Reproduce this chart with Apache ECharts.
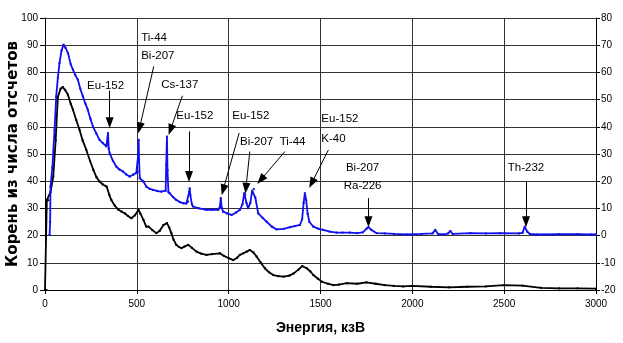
<!DOCTYPE html>
<html>
<head>
<meta charset="utf-8">
<script src="https://cdn.jsdelivr.net/npm/echarts@6/dist/echarts.min.js"></script>
<style>
html,body{margin:0;padding:0;background:#fff;}
#chart{width:623px;height:343px;}
</style>
</head>
<body>
<div id="chart"></div>
<script>
// ---- Data ----
// Black spectrum (left axis): energy, keV
var blackEnergy = [0, 8, 10, 18, 30, 45, 58, 70, 85, 97, 110, 125, 140, 152, 170, 188, 205, 225, 245, 263, 280, 297, 315, 336, 350, 361, 380, 400, 418, 434, 452, 470, 490, 509, 520, 536, 551, 564, 585, 606, 625, 645, 664, 676, 688, 700, 715, 730, 743, 760, 780, 800, 825, 850, 879, 910, 952, 975, 1000, 1025, 1045, 1061, 1080, 1098, 1115, 1135, 1152, 1175, 1197, 1220, 1243, 1270, 1300, 1330, 1354, 1380, 1400, 1425, 1445, 1461, 1485, 1506, 1540, 1570, 1600, 1643, 1700, 1750, 1800, 1850, 1900, 1950, 2000, 2100, 2200, 2300, 2400, 2500, 2600, 2700, 2800, 2900, 3000];
var blackValues = [0, 0, 33, 33, 36, 41.7, 55, 71, 74, 74.6, 73.5, 71.8, 68.5, 66.3, 62.5, 58.9, 55, 51.5, 47.5, 44.2, 41.5, 39.9, 38.8, 38, 35, 33.1, 31, 29.5, 28.8, 28.2, 27.2, 26.4, 27.5, 29.5, 28, 25.8, 23.3, 23.3, 22, 20.9, 21.8, 23.9, 24.6, 23, 20.9, 18.5, 16.6, 15.8, 15.4, 16, 16.6, 15.5, 14.1, 13.4, 12.9, 13.2, 13.5, 12.5, 11.7, 11, 11.8, 12.9, 13.5, 14.1, 14.7, 13.8, 12.3, 10, 8, 6.5, 5.5, 5.1, 4.9, 5.3, 6.1, 7.5, 8.8, 8, 6.8, 5.5, 4.2, 3.1, 2.3, 1.8, 2.0, 2.5, 2.3, 2.8, 2.3, 1.8, 1.5, 1.3, 1.5, 1.2, 1.0, 1.2, 1.3, 1.8, 1.6, 0.8, 0.6, 0.6, 0.5];

// Blue spectrum (right axis)
var blueEnergy = [25, 28, 30, 40, 52, 61, 70, 79, 90, 101, 112, 125, 140, 152, 165, 179, 192, 206, 220, 233, 247, 261, 280, 297, 315, 334, 338, 343, 347, 352, 370, 388, 405, 424, 442, 461, 480, 497, 505, 508, 510, 512, 516, 536, 552, 570, 588, 610, 634, 657, 660, 664, 667, 672, 679, 697, 715, 735, 752, 770, 779, 785, 788, 791, 800, 806, 840, 879, 910, 943, 952, 957, 962, 970, 990, 1016, 1040, 1061, 1075, 1085, 1090, 1097, 1106, 1118, 1128, 1137, 1145, 1161, 1185, 1207, 1235, 1261, 1300, 1334, 1360, 1388, 1400, 1408, 1415, 1422, 1430, 1440, 1461, 1490, 1515, 1550, 1588, 1620, 1660, 1700, 1730, 1750, 1761, 1775, 1806, 1850, 1900, 1970, 2050, 2110, 2125, 2140, 2170, 2195, 2207, 2220, 2316, 2400, 2479, 2580, 2600, 2612, 2625, 2640, 2679, 2800, 2900, 2970, 3000];
var blueValues = [0.2, 5, 18, 25, 38.9, 51.2, 58, 63.5, 68, 70.2, 69, 67.1, 63, 61, 59, 57.3, 54, 51.2, 48.5, 46.3, 43, 40.1, 37.5, 35.2, 34, 32.8, 33.5, 37.7, 32, 30.3, 27.5, 25.4, 24.3, 23.6, 22.5, 21.7, 22.4, 23, 23.5, 30, 35.2, 28, 21.1, 19.9, 18, 17.2, 16.8, 16.4, 16.2, 16.5, 26, 36.4, 24, 16, 15.6, 14.2, 13.1, 12.3, 11.9, 11.8, 12.5, 16, 17.4, 15, 11.5, 10.7, 10, 9.5, 9.5, 9.5, 10.5, 13.8, 10.2, 8.8, 8.2, 7.6, 8.5, 9.5, 11.5, 15.6, 15, 12, 10.1, 12, 16.5, 17.1, 14, 8.2, 6.5, 5.1, 3.3, 2.3, 2.5, 3.1, 3.5, 3.9, 6, 12, 15.6, 13, 8, 5, 3.3, 2.5, 2.1, 1.5, 1.1, 1.1, 1.1, 0.9, 1.2, 2.5, 3.1, 2.2, 0.9, 0.8, 0.6, 0.4, 0.6, 0.8, 2.1, 0.6, 0.4, 0.8, 1.7, 0.6, 0.9, 0.8, 0.9, 0.8, 1, 3.3, 1.5, 0.6, 0.4, 0.5, 0.5, 0.4, 0.4];

// Axis ticks
var xTicks = [0, 500, 1000, 1500, 2000, 2500, 3000];
var leftTicks = [0, 10, 20, 30, 40, 50, 60, 70, 80, 90, 100];
var rightTicks = [-20, -10, 0, 10, 20, 30, 40, 50, 60, 70, 80];

// Peak annotation labels (text, anchor energy, anchor value on right axis)
var labelTexts = ['Eu-152', 'Ti-44', 'Bi-207', 'Cs-137', 'Eu-152', 'Eu-152', 'Bi-207', 'Ti-44', 'Eu-152', 'K-40', 'Bi-207', 'Ra-226', 'Th-232'];
var labelEnergy = [330, 521, 521, 734, 816, 1017, 1152, 1348, 1502, 1502, 1729, 1729, 2619];
var labelValue = [55.2, 72.8, 66.2, 55.5, 44.1, 44.1, 34.6, 34.6, 43, 35.6, 25, 18.4, 24.8];
var labelLeftAligned = [false, true, true, false, false, true, false, false, true, true, false, false, false];

// Arrows: start (energy, value) -> tip (energy, value), right axis
var arrowFromE = [352, 592, 748, 784, 1057, 1115, 1306, 1543, 1761, 2619];
var arrowFromV = [53.3, 62.2, 51.4, 38.3, 37.7, 30.9, 30.9, 31.5, 13.8, 19.9];
var arrowToE = [352, 515, 683, 784, 970, 1094, 1175, 1452, 1761, 2619];
var arrowToV = [41.5, 39.6, 38.9, 21.7, 16.8, 17.4, 20.5, 19.3, 5.1, 5.1];

function pairs(xs, ys) { return xs.map(function (x, i) { return [x, ys[i]]; }); }

var labelFont = 'Liberation Sans Narrow, Arial Narrow, Liberation Sans, sans-serif';

var markPointData = labelTexts.map(function (t, i) {
  return {
    coord: [labelEnergy[i], labelValue[i]],
    symbol: 'circle', symbolSize: 1,
    itemStyle: { color: 'rgba(0,0,0,0)' },
    label: {
      show: true, formatter: t,
      position: labelLeftAligned[i] ? 'right' : 'inside',
      distance: 0,
      color: '#000', fontSize: 11.5, fontFamily: labelFont
    }
  };
});

var markLineData = arrowFromE.map(function (e, i) {
  return [{ coord: [e, arrowFromV[i]] }, { coord: [arrowToE[i], arrowToV[i]] }];
});

var chart = echarts.init(document.getElementById('chart'), null, { renderer: 'canvas' });

var axisLabelStyle = { color: '#000', fontSize: 10, fontFamily: labelFont };

chart.setOption({
  backgroundColor: '#fff',
  animation: false,
  grid: { left: 45, right: 27, top: 18, bottom: 53, containLabel: false, outerBoundsMode: 'none' },
  xAxis: {
    type: 'value', min: 0, max: 3000, interval: 500,
    name: 'Энергия, кзВ', nameLocation: 'middle', nameGap: 31, nameMoveOverlap: false,
    nameTextStyle: { fontSize: 14, fontWeight: 'bold', color: '#000', fontFamily: 'Liberation Sans, Arial, sans-serif' },
    axisLine: { show: true, lineStyle: { color: '#000', width: 1 } },
    axisTick: { show: true, length: 4, lineStyle: { color: '#000' } },
    axisLabel: Object.assign({ margin: 9, formatter: function (v) { return xTicks.indexOf(v) >= 0 ? String(v) : ''; } }, axisLabelStyle),
    splitLine: { show: true, lineStyle: { color: '#333', width: 1 } }
  },
  yAxis: [{
    type: 'value', min: 0, max: 100, interval: 10, position: 'left',
    name: 'Корень из числа отсчетов', nameLocation: 'middle', nameGap: 24, nameMoveOverlap: false,
    nameTextStyle: { fontSize: 15, fontWeight: 'bold', color: '#000', fontFamily: 'DejaVu Sans, sans-serif' },
    axisLine: { show: true, lineStyle: { color: '#000', width: 1 } },
    axisTick: { show: true, length: 5, lineStyle: { color: '#000' } },
    axisLabel: Object.assign({ margin: 7, formatter: function (v) { return leftTicks.indexOf(v) >= 0 ? String(v) : ''; } }, axisLabelStyle),
    splitLine: { show: true, lineStyle: { color: '#333', width: 1 } }
  }, {
    type: 'value', min: -20, max: 80, interval: 10, position: 'right',
    axisLine: { show: true, lineStyle: { color: '#000', width: 1 } },
    axisTick: { show: true, length: 4, lineStyle: { color: '#000' } },
    axisLabel: Object.assign({ margin: 5, formatter: function (v) { return rightTicks.indexOf(v) >= 0 ? String(v) : ''; } }, axisLabelStyle),
    splitLine: { show: false }
  }],
  series: [{
    name: 'black', type: 'line', yAxisIndex: 0,
    data: pairs(blackEnergy, blackValues),
    showSymbol: true, symbol: 'rect', symbolSize: 2,
    itemStyle: { color: '#000' },
    lineStyle: { color: '#000', width: 1.8 },
    z: 3
  }, {
    name: 'blue', type: 'line', yAxisIndex: 1,
    data: pairs(blueEnergy, blueValues),
    showSymbol: true, symbol: 'rect', symbolSize: 2,
    itemStyle: { color: '#1010f0' },
    lineStyle: { color: '#1010f0', width: 1.8 },
    z: 4,
    markPoint: { silent: true, data: markPointData },
    markLine: {
      silent: true, symbol: ['none', 'triangle'], symbolSize: [8, 11],
      lineStyle: { color: '#000', width: 1, type: 'solid' },
      label: { show: false },
      data: markLineData
    }
  }]
});
</script>
</body>
</html>
